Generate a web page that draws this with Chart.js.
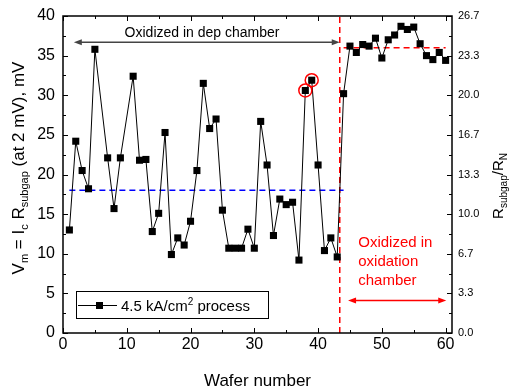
<!DOCTYPE html>
<html>
<head>
<meta charset="utf-8">
<script src="https://cdn.jsdelivr.net/npm/chart.js@4/dist/chart.umd.min.js"></script>
<style>
  html,body{margin:0;padding:0;background:#fff;}
  canvas{display:block;}
</style>
</head>
<body>
<canvas id="c" width="509" height="392" style="width:509px;height:392px"></canvas>
<script>
// wafer numbers (6 and 10 are missing in the plot)
const wafers = [1,2,3,4,5,7,8,9,11,12,13,14,15,16,17,18,19,20,21,22,23,24,25,26,27,28,29,30,
  31,32,33,34,35,36,37,38,39,40,41,42,43,44,45,46,47,48,49,50,51,52,53,54,55,56,57,58,59,60];
const vm = [13.0,24.2,20.5,18.2,35.8,22.1,15.7,22.1,32.4,21.8,21.9,12.8,15.1,25.3,9.9,12.0,11.1,14.1,20.5,31.5,25.8,27.0,15.5,10.7,10.7,10.7,13.1,10.7,
  26.7,21.2,12.3,16.9,16.2,16.5,9.2,30.6,31.9,21.2,10.4,12.0,9.6,30.2,36.2,35.4,36.4,36.2,37.2,34.7,37.0,37.6,38.7,38.3,38.6,36.5,35.0,34.5,35.4,34.4];
const circled = [38,39];

const depMean = 18.0, depFrom = 1, depTo = 44;
const oxMean = 36.0, oxFrom = 44, oxTo = 60;
const boundaryX = 43.4;

const xTicks = [0,10,20,30,40,50,60];
const yTicks = [0,5,10,15,20,25,30,35,40];
const rightTicks = ['0.0','3.3','6.7','10.0','13.3','16.7','20.0','23.3','26.7'];

const FONT = '"Liberation Sans", Arial, sans-serif';

function richWidth(ctx, parts){
  let w = 0;
  parts.forEach(p=>{ ctx.font = p.size + 'px ' + FONT; w += ctx.measureText(p.t).width; });
  return w;
}
function drawRich(ctx, parts, x, y){
  let cx = x;
  parts.forEach(p=>{
    ctx.font = p.size + 'px ' + FONT;
    ctx.fillText(p.t, cx, y + (p.dy || 0));
    cx += ctx.measureText(p.t).width;
  });
}
function arrow(ctx, x1, x2, y, color){
  ctx.save();
  ctx.strokeStyle = color; ctx.fillStyle = color; ctx.lineWidth = 1.5;
  ctx.beginPath(); ctx.moveTo(x1 + 4, y); ctx.lineTo(x2 - 4, y); ctx.stroke();
  [[x1, 1],[x2, -1]].forEach(([x, d])=>{
    ctx.beginPath(); ctx.moveTo(x, y); ctx.lineTo(x + 8*d, y - 3); ctx.lineTo(x + 8*d, y + 3); ctx.closePath(); ctx.fill();
  });
  ctx.restore();
}

const decor = {
  id: 'decor',
  afterDraw(chart){
    const ctx = chart.ctx, a = chart.chartArea;
    const xs = chart.scales.x, ys = chart.scales.y;
    ctx.save();
    // frame
    ctx.strokeStyle = '#000'; ctx.lineWidth = 1.5;
    ctx.strokeRect(a.left, a.top, a.right - a.left, a.bottom - a.top);
    // ticks
    ctx.lineWidth = 1;
    ctx.beginPath();
    for(let v = 0; v <= 60; v += 5){
      const px = Math.round(xs.getPixelForValue(v)) + 0.5;
      const len = v % 10 === 0 ? 5 : 3;
      ctx.moveTo(px, a.bottom); ctx.lineTo(px, a.bottom - len);
      ctx.moveTo(px, a.top); ctx.lineTo(px, a.top + len);
    }
    for(let v = 0; v <= 40; v += 2.5){
      const py = Math.round(ys.getPixelForValue(v)) + 0.5;
      const len = v % 5 === 0 ? 5 : 3;
      ctx.moveTo(a.left, py); ctx.lineTo(a.left + len, py);
      ctx.moveTo(a.right, py); ctx.lineTo(a.right - len, py);
    }
    ctx.stroke();
    // tick labels
    ctx.fillStyle = '#000';
    ctx.font = '16px ' + FONT;
    ctx.textAlign = 'center'; ctx.textBaseline = 'middle';
    xTicks.forEach(v=> ctx.fillText(String(v), xs.getPixelForValue(v), a.bottom + 12));
    ctx.textAlign = 'right';
    yTicks.forEach(v=> ctx.fillText(String(v), a.left - 8, ys.getPixelForValue(v)));
    ctx.font = '11px ' + FONT;
    ctx.textAlign = 'left';
    yTicks.forEach((v,i)=> ctx.fillText(rightTicks[i], a.right + 6, ys.getPixelForValue(v)));
    // x title
    ctx.font = '17px ' + FONT; ctx.textAlign = 'center';
    ctx.fillText('Wafer number', (a.left + a.right)/2, 381);
    // left title
    ctx.textAlign = 'left'; ctx.textBaseline = 'alphabetic';
    const L = [
      {t:'V', size:17},{t:'m', size:11, dy:4},{t:' = I', size:17},{t:'c', size:11, dy:4},
      {t:' R', size:17},{t:'subgap', size:11, dy:4},{t:' (at 2 mV), mV', size:17}
    ];
    ctx.save();
    ctx.translate(24, 168); ctx.rotate(-Math.PI/2);
    drawRich(ctx, L, -richWidth(ctx, L)/2, 0);
    ctx.restore();
    // right title
    const R = [
      {t:'R', size:15},{t:'subgap', size:10, dy:4},{t:'/R', size:15},{t:'N', size:10, dy:4}
    ];
    ctx.save();
    ctx.translate(503, 186); ctx.rotate(-Math.PI/2);
    drawRich(ctx, R, -richWidth(ctx, R)/2, 0);
    ctx.restore();
    // annotations
    const yArrow = ys.getPixelForValue(36.7);
    arrow(ctx, xs.getPixelForValue(1.7), xs.getPixelForValue(boundaryX), yArrow, '#444');
    ctx.font = '14px ' + FONT; ctx.textAlign = 'center'; ctx.textBaseline = 'middle'; ctx.fillStyle = '#000';
    ctx.fillText('Oxidized in dep chamber', xs.getPixelForValue(21.8), a.top + 17);
    arrow(ctx, xs.getPixelForValue(44.7), xs.getPixelForValue(60.1), ys.getPixelForValue(4.1), '#ff0000');
    ctx.fillStyle = '#ff0000'; ctx.font = '15px ' + FONT; ctx.textAlign = 'left';
    ['Oxidized in','oxidation','chamber'].forEach((s,i)=> ctx.fillText(s, xs.getPixelForValue(46.3), ys.getPixelForValue(11.4) + i*19));
    // legend
    ctx.strokeStyle = '#000'; ctx.lineWidth = 1; ctx.fillStyle = '#000';
    ctx.strokeRect(76.5, 291.5, 192, 27);
    ctx.beginPath(); ctx.moveTo(78, 305.5); ctx.lineTo(117, 305.5); ctx.stroke();
    ctx.fillRect(96, 302, 7, 7);
    ctx.textAlign = 'left'; ctx.textBaseline = 'alphabetic';
    drawRich(ctx, [{t:'4.5 kA/cm', size:15},{t:'2', size:10, dy:-6},{t:' process', size:15}], 121, 311);
    ctx.restore();
  }
};

new Chart(document.getElementById('c'), {
  type: 'scatter',
  data: {
    datasets: [
      {
        data: wafers.map((w,i)=>({x:w, y:vm[i]})),
        showLine: true, borderColor: '#000', borderWidth: 1,
        pointStyle: 'rect', pointRadius: 5, pointBackgroundColor: '#000', pointBorderWidth: 0,
        order: 1
      },
      {
        data: circled.map(w=>({x:w, y:vm[wafers.indexOf(w)]})),
        showLine: false, pointStyle: 'circle', pointRadius: 6.5,
        pointBackgroundColor: 'rgba(0,0,0,0)', pointBorderColor: '#ff0000', pointBorderWidth: 1.5,
        order: 0
      },
      {
        data: [{x:depFrom, y:depMean},{x:depTo, y:depMean}],
        showLine: true, borderColor: '#0000ff', borderWidth: 1.5, borderDash: [6,4], pointRadius: 0,
        order: 3
      },
      {
        data: [{x:oxFrom, y:oxMean},{x:oxTo, y:oxMean}],
        showLine: true, borderColor: '#ff0000', borderWidth: 1.5, borderDash: [6,4], pointRadius: 0,
        order: 3
      },
      {
        data: [{x:boundaryX, y:0},{x:boundaryX, y:40}],
        showLine: true, borderColor: '#ff0000', borderWidth: 1.5, borderDash: [6,4], pointRadius: 0,
        order: 3
      }
    ]
  },
  options: {
    responsive: false,
    animation: false,
    layout: { padding: { left: 63, top: 16, right: 57, bottom: 59 } },
    plugins: { legend: { display: false }, tooltip: { enabled: false } },
    scales: {
      x: { type: 'linear', min: 0, max: 61, display: false },
      y: { type: 'linear', min: 0, max: 40, display: false }
    }
  },
  plugins: [decor]
});
</script>
</body>
</html>
